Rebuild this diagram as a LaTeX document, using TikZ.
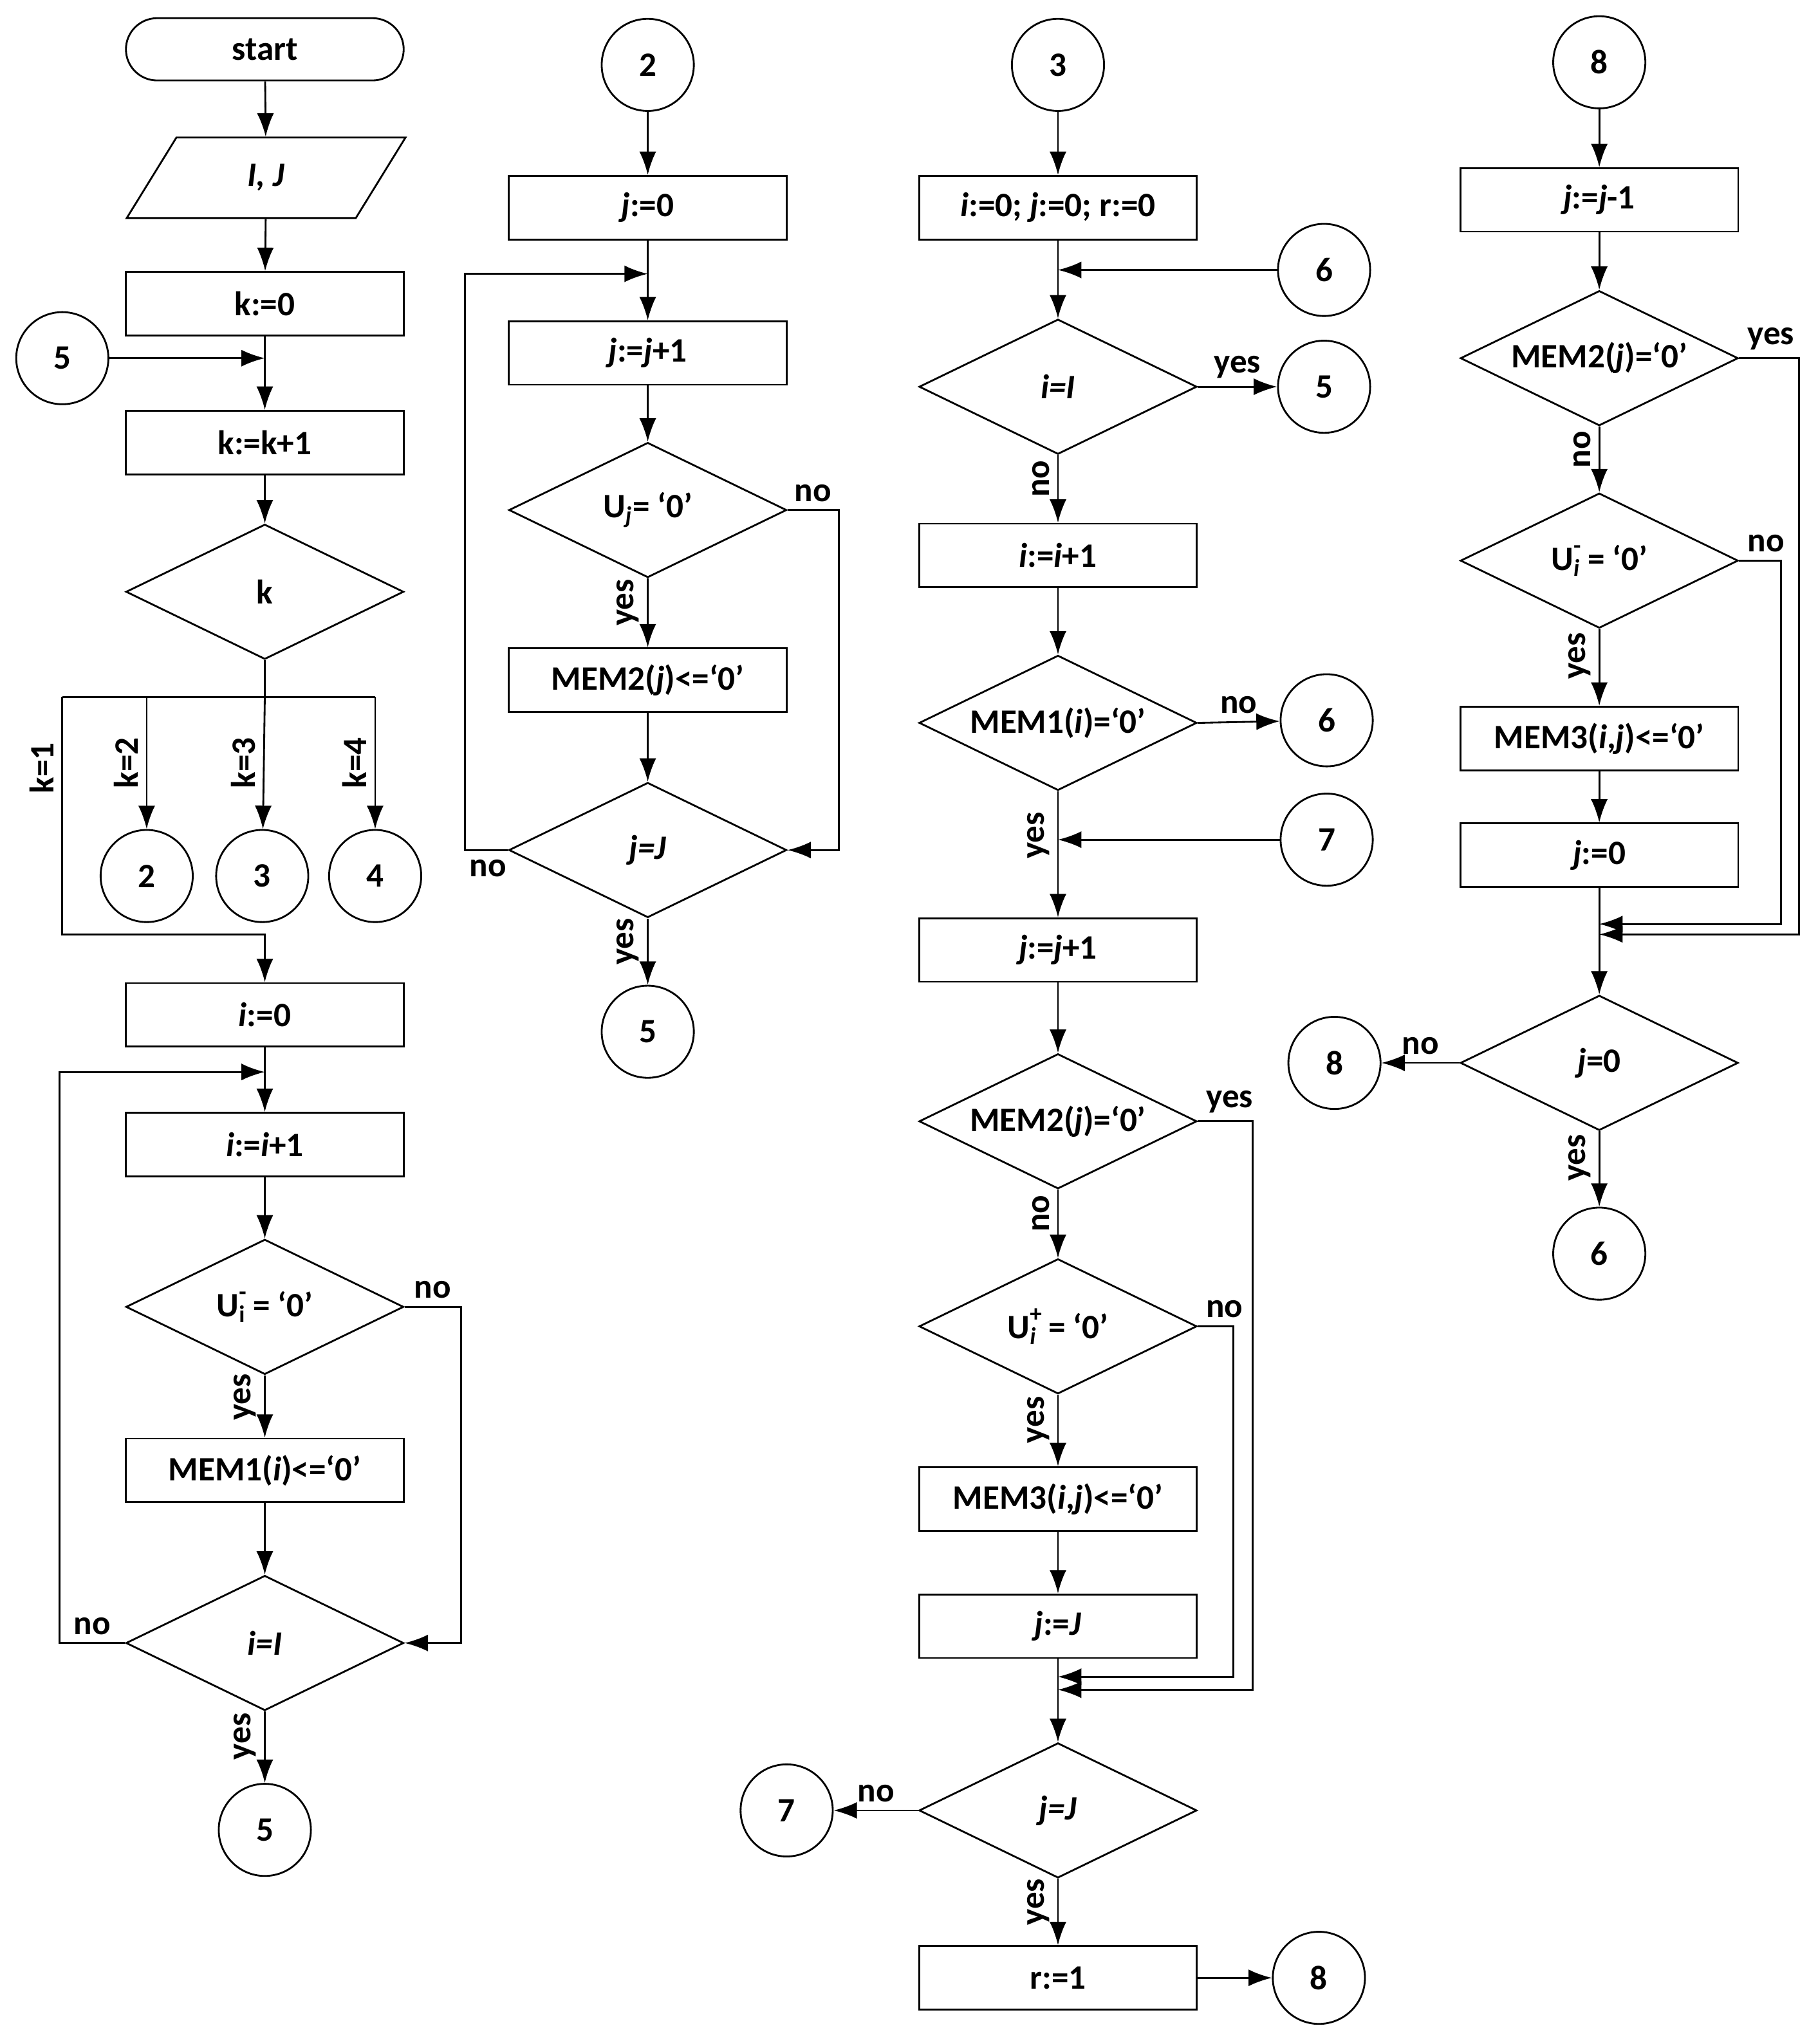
\documentclass[tikz,border=0pt]{standalone}
\usepackage{fontspec}
\setmainfont{Carlito}
\usetikzlibrary{shapes,arrows.meta,calc}
\newcommand{\Usub}[2]{U\rlap{\textsubscript{#1}}\raisebox{0.15em}{\textsuperscript{#2}}\,}
\begin{document}
\begin{tikzpicture}[x=0.02cm,y=-0.02cm,
  every node/.style={font=\fontsize{15}{18}\selectfont\bfseries},
  proc/.style={draw,thick,minimum width=4.28cm,minimum height=0.98cm,inner sep=0},
  dec/.style={draw,thick,diamond,minimum width=4.28cm,minimum height=2.08cm,inner sep=0},
  con/.style={draw,thick,circle,minimum size=1.42cm,inner sep=0},
  arr/.style={thick,-{Latex[length=3.6mm,width=2.6mm]}},
  lin/.style={thick},
  yes/.style={rotate=90,anchor=south,pos=0.35},
  no/.style={anchor=south,pos=0.5}]
\useasboundingbox (0,0) rectangle (1400,1575);
% First column
\node[draw,thick,rounded corners=0.48cm,minimum width=4.28cm,minimum height=0.96cm] (start) at (204,38) {start};
\node[draw,thick,trapezium,trapezium left angle=69,trapezium right angle=111,trapezium stretches=true,minimum width=4.3cm,minimum height=1.24cm,inner sep=0] (in) at (205,137) {\textit{I, J}};
\node[proc] (k0) at (204,234) {k:=0};
\node[con] (c5a) at (48,276) {5};
\node[proc] (k1) at (204,341) {k:=k+1};
\node[dec] (dk) at (204,456) {k};
\node[con] (c2a) at (113,675) {2};
\node[con] (c3a) at (202,675) {3};
\node[con] (c4a) at (289,675) {4};
\node[proc] (i0) at (204,782) {\textit{i}:=0};
\node[proc] (i1) at (204,882) {\textit{i}:=\textit{i}+1};
\node[dec] (dui) at (204,1007) {};
\node at (dui) {\Usub{i}{-}= ‘0’};
\node[proc] (mem1) at (204,1133) {MEM1(\textit{i})<=‘0’};
\node[dec] (dii) at (204,1266) {\textit{i=I}};
\node[con] (c5b) at (204,1410) {5};
\draw[arr] (start) -- (in);
\draw[arr] (in) -- (k0);
\coordinate (m5) at (204,276);
\draw[arr] (k0) -- (k1);
\draw[arr] (c5a) -- (m5);
\draw[arr] (k1) -- (dk);
\coordinate (br) at (204,537);
\draw[lin] (dk.south) -- (br);
\draw[lin] (48,537) -- (289,537);
\draw[arr] (113,537) -- node[yes,pos=0.5]{k=2} (c2a);
\draw[arr] (br) -- node[yes,pos=0.5]{k=3} (c3a);
\draw[arr] (289,537) -- node[yes,pos=0.5]{k=4} (c4a);
\draw[arr] (48,537) -- node[yes,pos=0.3]{k=1} (48,720) -- (204,720) -- (i0);
\coordinate (m1) at (204,826);
\draw[arr] (i0) -- (i1);
\draw[arr] (dii.west) -- node[no]{no} (46,1266) -- (46,826) -- (m1);
\draw[arr] (i1) -- (dui);
\draw[arr] (dui.south) -- node[yes]{yes} (mem1);
\draw[arr] (dui.east) -- node[no]{no} (355,1007) -- (355,1266) -- (dii.east);
\draw[arr] (mem1) -- (dii);
\draw[arr] (dii.south) -- node[yes]{yes} (c5b);
% Second column
\node[con] (c2b) at (499,50) {2};
\node[proc] (j0) at (499,160) {\textit{j}:=0};
\node[proc] (j1) at (499,272) {\textit{j}:=\textit{j}+1};
\node[dec] (duj) at (499,393) {U\textsubscript{\textit{j}}= ‘0’};
\node[proc] (mem2) at (499,524) {MEM2(\textit{j})<=‘0’};
\node[dec] (djj) at (499,655) {\textit{j=J}};
\node[con] (c5c) at (499,795) {5};
\coordinate (m2) at (499,211);
\draw[arr] (c2b) -- (j0);
\draw[arr] (j0) -- (j1);
\draw[arr] (djj.west) -- (358,655) -- (358,211) -- (m2);
\node at (376,669) {no};
\draw[arr] (j1) -- (duj);
\draw[arr] (duj.south) -- node[yes]{yes} (mem2);
\draw[arr] (duj.east) -- node[no]{no} (646,393) -- (646,655) -- (djj.east);
\draw[arr] (mem2) -- (djj);
\draw[arr] (djj.south) -- node[yes]{yes} (c5c);
% Third column
\node[con] (c3b) at (815,50) {3};
\node[proc] (init) at (815,160) {\textit{i}:=0; \textit{j}:=0; r:=0};
\node[con] (c6a) at (1020,208) {6};
\node[dec] (dii2) at (815,298) {\textit{i=I}};
\node[con] (c5d) at (1020,298) {5};
\node[proc] (i2) at (815,428) {\textit{i}:=\textit{i}+1};
\node[dec] (dmem1) at (815,557) {};
\node at (dmem1) {MEM1(\textit{i})=‘0’};
\node[con] (c6b) at (1022,555) {6};
\node[con] (c7a) at (1022,647) {7};
\node[proc] (j2) at (815,732) {\textit{j}:=\textit{j}+1};
\node[dec] (dmem2) at (815,864) {};
\node at (dmem2) {MEM2(\textit{j})=‘0’};
\node[dec] (dup) at (815,1022) {};
\node at (dup) {\Usub{\textit{i}}{+}= ‘0’};
\node[proc] (mem3) at (815,1155) {MEM3(\textit{i},\textit{j})<=‘0’};
\node[proc] (jJ) at (815,1253) {\textit{j}:=\textit{J}};
\node[dec] (djj2) at (815,1395) {\textit{j=J}};
\node[con] (c7b) at (606,1395) {7};
\node[proc] (r1) at (815,1524) {r:=1};
\node[con] (c8a) at (1016,1524) {8};
\coordinate (m3) at (815,208);
\coordinate (m4) at (815,647);
\coordinate (m5a) at (815,1292);
\coordinate (m5b) at (815,1302);
\draw[arr] (c3b) -- (init);
\draw[arr] (init) -- (dii2);
\draw[arr] (c6a) -- (m3);
\draw[arr] (dii2.east) -- node[no]{yes} (c5d);
\draw[arr] (dii2.south) -- node[yes]{no} (i2);
\draw[arr] (i2) -- (dmem1);
\draw[arr] (dmem1.east) -- node[no]{no} (c6b);
\draw[arr] (dmem1.south) -- node[yes]{yes} (j2);
\draw[arr] (c7a) -- (m4);
\draw[arr] (j2) -- (dmem2);
\draw[arr] (dmem2.east) -- node[no,anchor=south west,pos=0]{yes} (965,864) -- (965,1302) -- (m5b);
\draw[arr] (dmem2.south) -- node[yes]{no} (dup);
\draw[arr] (dup.east) -- node[no,anchor=south west,pos=0]{no} (950,1022) -- (950,1292) -- (m5a);
\draw[arr] (dup.south) -- node[yes]{yes} (mem3);
\draw[arr] (mem3) -- (jJ);
\draw[arr] (jJ) -- (djj2);
\draw[arr] (djj2.west) -- node[no]{no} (c7b);
\draw[arr] (djj2.south) -- node[yes]{yes} (r1);
\draw[arr] (r1) -- (c8a);
% Fourth column
\node[con] (c8b) at (1232,48) {8};
\node[proc] (jm) at (1232,154) {\textit{j}:=\textit{j}-1};
\node[dec] (dmem2b) at (1232,276) {};
\node at (dmem2b) {MEM2(\textit{j})=‘0’};
\node[dec] (dum) at (1232,432) {};
\node at (dum) {\Usub{\textit{i}}{-}= ‘0’};
\node[proc] (mem3b) at (1232,569) {MEM3(\textit{i},\textit{j})<=‘0’};
\node[proc] (j3) at (1232,659) {\textit{j}:=0};
\node[dec] (dj0) at (1232,819) {\textit{j}=0};
\node[con] (c8c) at (1028,819) {8};
\node[con] (c6c) at (1232,966) {6};
\coordinate (m6a) at (1232,712);
\coordinate (m6b) at (1232,720);
\draw[arr] (c8b) -- (jm);
\draw[arr] (jm) -- (dmem2b);
\draw[arr] (dmem2b.east) -- node[no,anchor=south west,pos=0]{yes} (1386,276) -- (1386,720) -- (m6b);
\draw[arr] (dmem2b.south) -- node[yes]{no} (dum);
\draw[arr] (dum.east) -- node[no,anchor=south west,pos=0]{no} (1372,432) -- (1372,712) -- (m6a);
\draw[arr] (dum.south) -- node[yes]{yes} (mem3b);
\draw[arr] (mem3b) -- (j3);
\draw[arr] (j3) -- (dj0);
\draw[arr] (dj0.west) -- node[no]{no} (c8c);
\draw[arr] (dj0.south) -- node[yes]{yes} (c6c);
\end{tikzpicture}
\end{document}
